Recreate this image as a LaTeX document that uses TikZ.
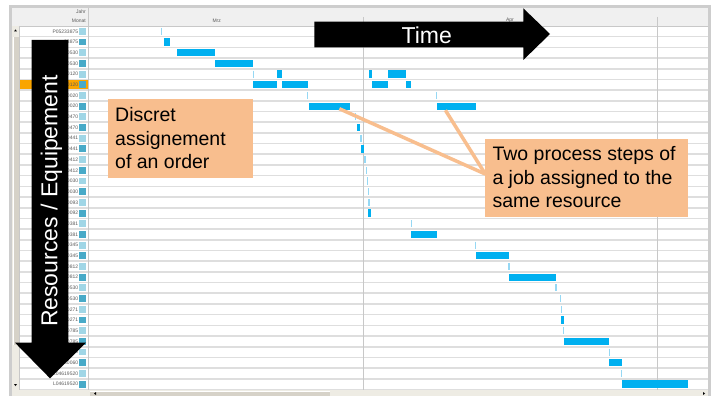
\documentclass[tikz,border=0pt]{standalone}
\usepackage{fontspec}
\setmainfont{Liberation Sans}
\usetikzlibrary{calc}
\definecolor{peach}{RGB}{248,190,142}
\definecolor{barblue}{RGB}{0,176,240}
\definecolor{thinblue}{RGB}{150,216,244}
\definecolor{gridgray}{RGB}{222,222,222}
\definecolor{headgray}{RGB}{240,240,240}
\definecolor{framegray}{RGB}{205,205,205}
\definecolor{vgray}{RGB}{200,200,200}
\definecolor{sqlight}{RGB}{160,214,230}
\definecolor{sqdark}{RGB}{72,170,200}
\definecolor{selorange}{RGB}{250,165,0}
\definecolor{scrollbg}{RGB}{238,236,228}
\definecolor{scrollthumb}{RGB}{214,210,200}
\definecolor{labgray}{RGB}{90,90,90}
\begin{document}
\begin{tikzpicture}[x=1pt,y=-1pt,
  tiny/.style={font=\fontsize{5}{5}\selectfont, text=labgray, inner sep=0pt},
  calloutbox/.style={fill=peach, draw=none, inner sep=0pt, anchor=north west},
  callouttext/.style={font=\fontsize{19.5}{23.3}\selectfont, text=black, inner sep=0pt, anchor=base west},
  barnode/.style={fill=barblue, draw=none, inner sep=0pt, anchor=north west, minimum height=7.3pt},
  connector/.style={draw=peach, line width=3.5pt},
  bigarrowtext/.style={font=\fontsize{23}{23}\selectfont, text=white, inner sep=0pt, anchor=base}]
\useasboundingbox (0,0) rectangle (715,396);
\fill[white] (0,0) rectangle (715,396);
% window frame
\fill[framegray] (9,5) rectangle (711,396);
\fill[white] (12,8) rectangle (708,390);
% header
\fill[headgray] (12,8) rectangle (708,26);
\draw[vgray, line width=0.8pt] (12,26) -- (708,26);
% left scrollbar
\fill[scrollbg] (12,26) rectangle (19,390);
\fill[scrollthumb] (13,37) rectangle (18.5,345);
\draw[white, line width=0.6pt] (13,37) -- (13,345);
\fill[black] (14,31.5) -- (17,31.5) -- (15.5,29.5) -- cycle;
\fill[black] (14,384) -- (17,384) -- (15.5,386) -- cycle;
% selected row
\fill[selorange] (19,80.2) rectangle (88,89.4);
% row lines
\foreach \r in {1,...,34} {
  \pgfmathsetmacro\yy{26+10.69*\r}
  \draw[gridgray, line width=1.6pt] (19,\yy) -- (708,\yy);
}
% vertical grid lines
\draw[vgray, line width=0.8pt] (363.5,17) -- (363.5,390);
\draw[vgray, line width=0.8pt] (657.3,17) -- (657.3,390);
\draw[vgray, line width=1.2pt] (88.7,8) -- (88.7,390);
\draw[vgray, line width=0.6pt] (19,26) -- (19,390);
% header texts
\node[tiny, anchor=east] (jahr) at (86,12) {Jahr};
\node[tiny, anchor=east] (monat) at (86,21) {Monat};
\node[tiny] (mrz) at (216.7,21) {Mrz};
\node[tiny] (apr) at (510,20) {Apr};
% squares
\foreach \r in {0,...,33} {
  \pgfmathsetmacro\yt{26+10.69*\r+1.9}
  \pgfmathsetmacro\yb{26+10.69*(\r+1)-1.9}
  \pgfmathtruncatemacro\odd{mod(\r,2)}
  \ifnum\odd=0 \fill[sqlight] (79.3,\yt) rectangle (86,\yb);
  \else \fill[sqdark] (79.3,\yt) rectangle (86,\yb); \fi
}
% labels
\foreach \r/\t in {0/P05233875,1/33875,2/30530,3/30530,4/40120,5/40120,6/50020,7/50020,8/60470,9/60470,10/70441,11/70441,12/80412,13/80412,14/90030,15/90030,16/10093,17/10092,18/20381,19/20381,20/30345,21/30345,22/40812,23/40812,24/50530,25/50530,26/60271,27/60271,28/70785,29/70785,30/80060,31/80060,32/L04619520,33/L04619520} {
  \pgfmathsetmacro\ym{26+10.69*(\r+0.5)}
  \node[tiny, anchor=east] (lab\r) at (78.3,\ym) {\t};
}
% thin start markers
\foreach \r/\x in {0/161.3,4/253.3,6/307.7,6/436.7,8/355.3,10/361,12/365,13/366.7,14/367.7,15/368.3,16/369,18/411.3,20/475.7,22/509,24/556,25/560.3,26/561.3,28/563.7,30/609.3,32/621.7} {
  \pgfmathsetmacro\yt{26+10.69*\r+1.8}
  \pgfmathsetmacro\yb{26+10.69*(\r+1)-1.8}
  \draw[thinblue, line width=1.2pt] (\x,\yt) -- (\x,\yb);
}
% bars
\foreach \r/\a/\b in {1/163.7/170,2/177/214.7,3/214.7/252.7,4/276.7/281.7,4/369.3/372,4/388/406.3,5/252.7/276.7,5/282/307.7,5/372/388,5/406.3/411,9/357/360.3,11/361/363.7,17/368.4/370.6,19/411.3/436.7,21/475.7/508.7,23/509.3/556,27/561/563.7,29/563.7/609.3,31/609.3/621.7,33/621.7/687.7} {
  \pgfmathsetmacro\yt{26+10.69*\r+1.7}
  \pgfmathsetmacro\yb{26+10.69*(\r+1)-1.7}
  \fill[barblue] (\a,\yt) rectangle (\b,\yb);
}
\node[barnode, minimum width=40.3pt] (b7a) at (309,102.53) {};
\node[barnode, minimum width=39pt] (b7b) at (436.7,102.53) {};
% bottom scrollbar
\fill[scrollbg] (12,390) rectangle (708,396);
\fill[scrollthumb] (90,391) rectangle (330,396);
\draw[white, line width=0.6pt] (90,391) -- (330,391);
\fill[black] (96,392) -- (96,395) -- (94,393.5) -- cycle;
\fill[black] (703,392) -- (703,395) -- (705,393.5) -- cycle;
% callout boxes
\node[calloutbox, minimum width=145.3pt, minimum height=78.3pt] (box1) at (107.7,99) {};
\node[callouttext] (t1a) at (115,121.7) {Discret};
\node[callouttext] (t1b) at (115,145) {assignement};
\node[callouttext] (t1c) at (115,168.3) {of an order};
\node[calloutbox, minimum width=203.4pt, minimum height=77.7pt] (box2) at (484.3,139) {};
\coordinate (conv) at ($(box2.west)+(1,-4)$);
\draw[connector] ($(b7a.south)+(10,-1.5)$) -- (conv);
\draw[connector] ($(b7b.south)+(-11,0)$) -- (conv);
\node[calloutbox, minimum width=203.4pt, minimum height=77.7pt] (box2b) at (484.3,139) {};
\node[callouttext] (t2a) at (492.3,160.7) {Two process steps of};
\node[callouttext] (t2b) at (492.3,184) {a job assigned to the};
\node[callouttext] (t2c) at (492.3,207.3) {same resource};
% time arrow
\fill[black] (314.3,21.7) -- (523.3,21.7) -- (523.3,8.3) -- (550,34) -- (523.3,60) -- (523.3,47.3) -- (314.3,47.3) -- cycle;
\node[bigarrowtext] (time) at (426.7,43.3) {Time};
% resources arrow
\fill[black] (31.7,40) -- (68.3,40) -- (68.3,342.7) -- (86,342.7) -- (50,378.3) -- (15,342.7) -- (31.7,342.7) -- cycle;
\node[bigarrowtext, rotate=90] (res) at (57.3,201) {Resources / Equipement};
\end{tikzpicture}
\end{document}
